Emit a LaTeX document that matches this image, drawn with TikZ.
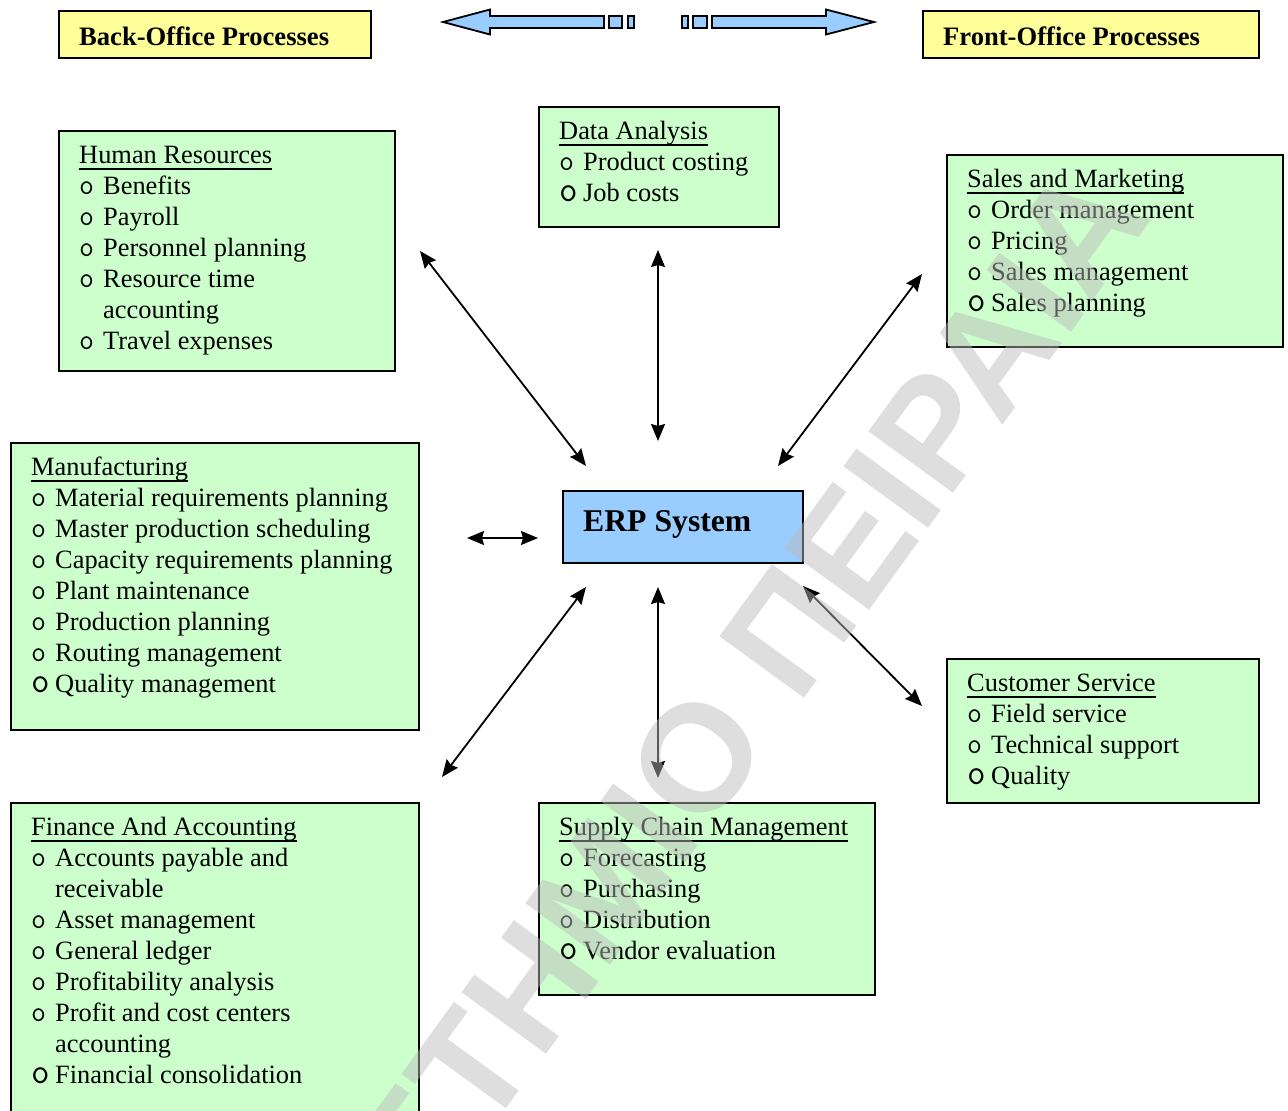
\documentclass[tikz,border=0pt]{standalone}
\usepackage{fontspec}
\setmainfont{Liberation Serif}
\newfontfamily\wmfont{Liberation Sans}
\usetikzlibrary{calc,arrows.meta}

\definecolor{boxgreen}{HTML}{CCFFCC}
\definecolor{boxyellow}{HTML}{FFFF99}
\definecolor{boxblue}{HTML}{99CCFF}
\definecolor{wmgray}{RGB}{187,187,187}

% list bullets, continuation indent and underlined titles
\newcommand\itembul{\makebox[24pt][l]{\ttfamily\fontsize{29}{29}\selectfont o}}
\newcommand\lastbul{\makebox[24pt][l]{\ttfamily\fontsize{36}{36}\selectfont o}}
\newcommand\contline{\hspace*{24pt}}
\newcommand\titleline[1]{\setbox0=\hbox{#1}\rlap{\rule[-6.5pt]{\wd0}{1.7pt}}\box0}

% one text line per row inside a box, 31pt apart
\newcommand\boxlines[2]{%
  \foreach \ltxt [count=\i] in {#2} {%
    \node[txt] (#1-\i) at ($(#1.north west)+(21,{33.5+31*(\i-1)})$) {\ltxt};%
  }%
}

\begin{document}
\begin{tikzpicture}[x=1pt,y=-1pt,
  gbox/.style={draw=black, line width=1.8pt, fill=boxgreen, anchor=north west, inner sep=0},
  ybox/.style={gbox, fill=boxyellow},
  bbox/.style={gbox, fill=boxblue},
  txt/.style={anchor=base west, inner sep=0, font=\fontsize{26.4}{31}\selectfont},
  head/.style={txt, font=\fontsize{26.6}{31}\selectfont\bfseries},
  conn/.style={line width=1.8pt, {Stealth[length=17pt,width=14pt,inset=2pt]}-{Stealth[length=17pt,width=14pt,inset=2pt]}},
  blockarrow/.style={draw=black, line width=1.8pt, fill=boxblue, line join=miter},
  wm/.style={inner sep=0, rotate=54, text=wmgray, text opacity=0.48,
    font=\wmfont\bfseries\fontsize{152}{152}\selectfont}]

\useasboundingbox (0,0) rectangle (1288,1111);
\clip (0,0) rectangle (1288,1111);
\fill[white] (0,0) rectangle (1288,1111);

% headers
\node[ybox, minimum width=312pt, minimum height=47pt] (bo) at (58,10) {};
\node[head] (bo-t) at ($(bo.north west)+(21,35)$) {Back-Office Processes};
\node[ybox, minimum width=336pt, minimum height=47pt] (fo) at (922,10) {};
\node[head] (fo-t) at ($(fo.north west)+(21,35)$) {Front-Office Processes};

% block arrows between the headers
\draw[blockarrow] (443,22) -- (490,9.5) -- (490,16) -- (604,16) -- (604,28) -- (490,28) -- (490,34.5) -- cycle;
\draw[blockarrow] (609,16) rectangle (622,28);
\draw[blockarrow] (628,16) rectangle (634,28);
\draw[blockarrow] (682,16) rectangle (688,28);
\draw[blockarrow] (693,16) rectangle (707,28);
\draw[blockarrow] (712,16) -- (826,16) -- (826,9.5) -- (874,22) -- (826,34.5) -- (826,28) -- (712,28) -- cycle;

% process boxes
\node[gbox, minimum width=336pt, minimum height=240pt] (hr) at (58,130) {};
\node[gbox, minimum width=240pt, minimum height=120pt] (da) at (538,106) {};
\node[gbox, minimum width=336pt, minimum height=192pt] (sm) at (946,154) {};
\node[gbox, minimum width=408pt, minimum height=287pt] (mf) at (10,442) {};
\node[bbox, minimum width=240pt, minimum height=72pt] (erp) at (562,490) {};
\node[gbox, minimum width=312pt, minimum height=144pt] (cs) at (946,658) {};
\node[gbox, minimum width=408pt, minimum height=340pt] (fa) at (10,802) {};
\node[gbox, minimum width=336pt, minimum height=192pt] (sc) at (538,802) {};

\node[head, font=\fontsize{31.7}{36}\selectfont\bfseries] (erp-t) at ($(erp.north west)+(21,41.5)$) {ERP System};

\boxlines{hr}{\titleline{Human Resources}, \itembul Benefits, \itembul Payroll,
  \itembul Personnel planning, \itembul Resource time, \contline accounting,
  \itembul Travel expenses}
\boxlines{da}{\titleline{Data Analysis}, \itembul Product costing, \lastbul Job costs}
\boxlines{sm}{\titleline{Sales and Marketing}, \itembul Order management,
  \itembul Pricing, \itembul Sales management, \lastbul Sales planning}
\boxlines{mf}{\titleline{Manufacturing}, \itembul Material requirements planning,
  \itembul Master production scheduling, \itembul Capacity requirements planning,
  \itembul Plant maintenance, \itembul Production planning,
  \itembul Routing management, \lastbul Quality management}
\boxlines{cs}{\titleline{Customer Service}, \itembul Field service,
  \itembul Technical support, \lastbul Quality}
\boxlines{fa}{\titleline{Finance And Accounting}, \itembul Accounts payable and,
  \contline receivable, \itembul Asset management, \itembul General ledger,
  \itembul Profitability analysis, \itembul Profit and cost centers,
  \contline accounting, \lastbul Financial consolidation}
\boxlines{sc}{\titleline{Supply Chain Management}, \itembul Forecasting,
  \itembul Purchasing, \itembul Distribution, \lastbul Vendor evaluation}

% free ends of the connectors around the ERP system
\coordinate (hrE) at (420,251);   \coordinate (erpNW) at (586,466);
\coordinate (daE) at (658,250);   \coordinate (erpN) at (658,441);
\coordinate (smE) at (922,274);   \coordinate (erpNE) at (778,466);
\coordinate (mfE) at (467,538);   \coordinate (erpW) at (538,538);
\coordinate (faE) at (442,777);   \coordinate (erpSW) at (586,587);
\coordinate (scE) at (658,778);   \coordinate (erpS) at (658,587);
\coordinate (csE) at (922,706);   \coordinate (erpSE) at (803,586);

\draw[conn] (hrE) -- (erpNW);
\draw[conn] (daE) -- (erpN);
\draw[conn] (smE) -- (erpNE);
\draw[conn] (mfE) -- (erpW);
\draw[conn] (faE) -- (erpSW);
\draw[conn] (scE) -- (erpS);
\draw[conn] (csE) -- (erpSE);

% watermark
\coordinate (wmP) at (704.2,836.8);
\node[wm, anchor=base east] (wm-a) at (wmP) {ΠΑΝΕΠΙΣΤΗΜΙ};
\node[wm, anchor=base west] (wm-b) at (wmP) {Ο ΠΕΙΡΑΙΑ};
\end{tikzpicture}
\end{document}
